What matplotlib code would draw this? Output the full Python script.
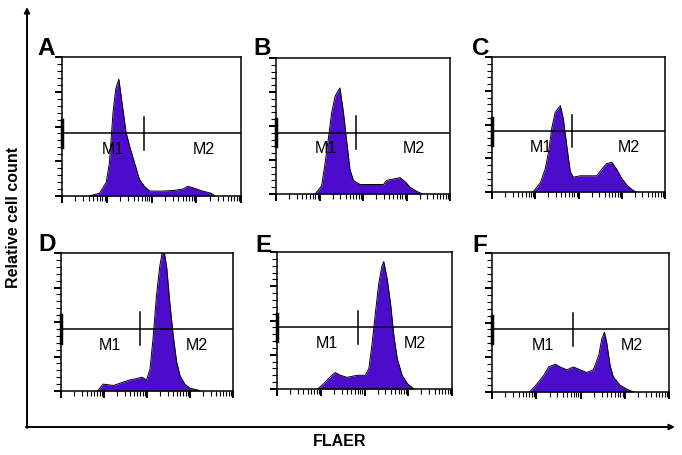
import numpy as np
import matplotlib
matplotlib.use("Agg")
import matplotlib.pyplot as plt
from matplotlib.ticker import FixedLocator, LogLocator, NullFormatter

plt.rcParams['font.family'] = ['Liberation Sans', 'DejaVu Sans']

# histogram outlines, x in log decades of FLAER, y as fraction of panel height
A_x = [0.6, 0.84, 0.99, 1.06, 1.14, 1.2, 1.27, 1.35, 1.43, 1.51, 1.62, 1.73, 1.84,
       1.96, 2.2, 2.5, 2.7, 2.81, 2.92, 3.15, 3.33, 3.42]
A_y = [0.0, 0.02, 0.1, 0.24, 0.6, 0.77, 0.84, 0.65, 0.46, 0.36, 0.24, 0.12, 0.07,
       0.036, 0.035, 0.04, 0.05, 0.07, 0.06, 0.035, 0.02, 0.0]

B_x = [0.9, 1.05, 1.13, 1.2, 1.28, 1.36, 1.43, 1.47, 1.55, 1.62, 1.7, 1.78, 1.93,
       2.16, 2.47, 2.54, 2.7, 2.85, 2.97, 3.08, 3.23, 3.37]
B_y = [0.0, 0.06, 0.23, 0.4, 0.6, 0.72, 0.76, 0.78, 0.6, 0.4, 0.18, 0.1, 0.07,
       0.07, 0.07, 0.1, 0.11, 0.12, 0.09, 0.05, 0.02, 0.0]

C_x = [0.95, 1.12, 1.23, 1.31, 1.38, 1.46, 1.58, 1.65, 1.73, 1.81, 1.88, 2.04,
       2.42, 2.54, 2.65, 2.77, 2.88, 3.0, 3.12, 3.27, 3.35]
C_y = [0.0, 0.07, 0.17, 0.3, 0.47, 0.59, 0.64, 0.54, 0.34, 0.15, 0.11, 0.12,
       0.12, 0.17, 0.21, 0.22, 0.17, 0.1, 0.05, 0.01, 0.0]

D_x = [0.85, 0.98, 1.22, 1.45, 1.6, 1.76, 1.88, 1.99, 2.07, 2.14, 2.22, 2.3, 2.38,
       2.46, 2.53, 2.61, 2.69, 2.77, 2.88, 3.0, 3.15, 3.25]
D_y = [0.0, 0.05, 0.04, 0.065, 0.08, 0.09, 0.1, 0.08, 0.16, 0.38, 0.69, 0.91, 1.05,
       0.89, 0.64, 0.4, 0.21, 0.11, 0.05, 0.02, 0.01, 0.0]

E_x = [0.93, 1.07, 1.22, 1.33, 1.45, 1.6, 1.83, 2.02, 2.1, 2.17, 2.25, 2.33, 2.4,
       2.44, 2.52, 2.6, 2.67, 2.75, 2.86, 2.98, 3.09, 3.13]
E_y = [0.0, 0.04, 0.09, 0.12, 0.1, 0.085, 0.1, 0.1, 0.15, 0.32, 0.56, 0.78, 0.9,
       0.93, 0.8, 0.61, 0.39, 0.22, 0.1, 0.04, 0.01, 0.0]

F_x = [0.85, 1.02, 1.17, 1.28, 1.43, 1.54, 1.69, 1.84, 1.99, 2.14, 2.29, 2.41, 2.48,
       2.54, 2.59, 2.67, 2.74, 2.89, 3.05, 3.2]
F_y = [0.0, 0.06, 0.12, 0.18, 0.2, 0.18, 0.16, 0.18, 0.16, 0.14, 0.16, 0.26, 0.38,
       0.43, 0.36, 0.19, 0.11, 0.05, 0.02, 0.0]

panel_letters = ['A', 'B', 'C', 'D', 'E', 'F']
panel_data = [(A_x, A_y), (B_x, B_y), (C_x, C_y), (D_x, D_y), (E_x, E_y), (F_x, F_y)]

marker_split = 1.84      # M1/M2 gate boundary (log decade)
marker_level = 0.45
marker_labels = ['M1', 'M2']

W, H = 682, 456
# panel boxes in pixels: left, top, right, bottom
boxes = [(62, 58, 241, 197), (276, 59, 450, 195), (492, 58, 665, 193),
         (61, 254, 233, 392), (277, 253, 452, 390), (492, 254, 669, 393)]
letter_pos = [(37, 55), (253, 55), (472, 55), (38, 251), (255, 252), (472, 252)]

FILL = '#4C0CCB'

fig = plt.figure(figsize=(W / 100, H / 100), dpi=100)


def draw_panel(ax, xs, ys):
    x = 10 ** np.asarray(xs)
    y = np.asarray(ys)
    ax.fill_between(x, 0, y, color=FILL, lw=0, zorder=2)
    ax.plot(x, y, color='black', lw=0.7, zorder=3)
    ax.plot(x, np.zeros_like(x), color='black', lw=0.9, zorder=3)

    # marker gates
    split = 10 ** marker_split
    ax.plot([1, 1e4], [marker_level, marker_level], color='black', lw=1.1, zorder=4)
    ax.plot([split, split], [marker_level - 0.12, marker_level + 0.12],
            color='black', lw=1.1, zorder=4)
    ax.plot([1, 1], [marker_level - 0.1, marker_level + 0.1], color='black',
            lw=2.5, zorder=4, clip_on=False)
    ax.text(0.285, 0.34, marker_labels[0], transform=ax.transAxes, fontsize=11.5,
            ha='center', va='center', zorder=5)
    ax.text(0.79, 0.34, marker_labels[1], transform=ax.transAxes, fontsize=11.5,
            ha='center', va='center', zorder=5)

    ax.set_xscale('log')
    ax.set_xlim(1, 1e4)
    ax.set_ylim(0, 1)
    ax.xaxis.set_major_locator(LogLocator(base=10, numticks=10))
    ax.xaxis.set_minor_locator(LogLocator(base=10, subs=np.arange(2, 10), numticks=10))
    ax.xaxis.set_major_formatter(NullFormatter())
    ax.xaxis.set_minor_formatter(NullFormatter())
    ax.yaxis.set_major_locator(FixedLocator(np.arange(0, 1.01, 0.25)))
    ax.yaxis.set_minor_locator(FixedLocator(np.arange(0, 1.01, 0.05)))
    ax.set_yticklabels([])
    ax.tick_params(which='major', direction='out', length=5, width=1.4, color='black')
    ax.tick_params(which='minor', direction='out', length=3.5, width=0.8, color='black')
    for s in ax.spines.values():
        s.set_linewidth(1.1)


for (l, t, r, b), (xs, ys), letter, (lx, ly) in zip(boxes, panel_data, panel_letters, letter_pos):
    ax = fig.add_axes([l / W, 1 - b / H, (r - l) / W, (b - t) / H])
    draw_panel(ax, xs, ys)
    fig.text(lx / W, 1 - ly / H, letter, fontsize=17.5, fontweight='bold',
             ha='left', va='baseline')

# outer axis arrows
over = fig.add_axes([0, 0, 1, 1])
over.set_xlim(0, W)
over.set_ylim(H, 0)
over.axis('off')
over.annotate('', xy=(27, 8), xytext=(27, 429),
              arrowprops=dict(arrowstyle='-|>', lw=1.4, color='black',
                              mutation_scale=8, shrinkA=0, shrinkB=0))
over.annotate('', xy=(675, 428), xytext=(26, 428),
              arrowprops=dict(arrowstyle='-|>', lw=1.4, color='black',
                              mutation_scale=8, shrinkA=0, shrinkB=0))

fig.text(14 / W, 1 - 217 / H, 'Relative cell count', rotation=90, fontsize=11.5,
         fontweight='bold', ha='center', va='center')
fig.text(340 / W, 1 - 442 / H, 'FLAER', fontsize=11.5, fontweight='bold',
         ha='center', va='center')

fig.savefig('out.png', dpi=100)
